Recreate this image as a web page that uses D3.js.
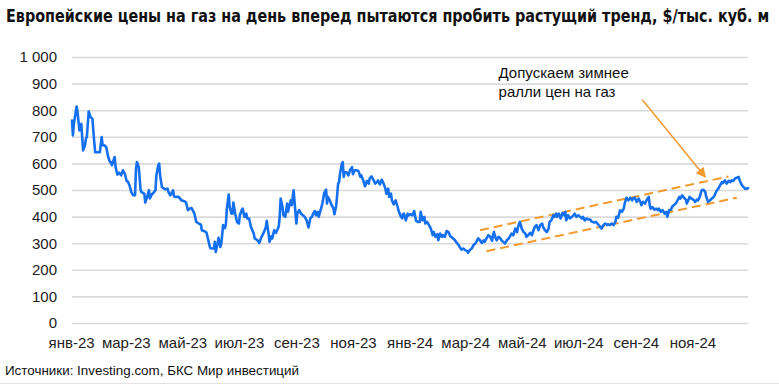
<!DOCTYPE html>
<html><head><meta charset="utf-8">
<script src="https://cdn.jsdelivr.net/npm/d3@7"></script>
<style>body{margin:0;background:#fff}svg{display:block}</style>
</head><body>
<svg id="chart" width="779" height="385"></svg>
<script>
const titleText = "Европейские цены на газ на день вперед пытаются пробить растущий тренд, $/тыс. куб. м";
const sourceText = "Источники: Investing.com, БКС Мир инвестиций";
const noteLines = ["Допускаем зимнее", "ралли цен на газ"];
const monthNames = ["янв","фев","мар","апр","май","июн","июл","авг","сен","окт","ноя","дек"];
const xTickDates = ["2023-01-01","2023-03-01","2023-05-01","2023-07-01","2023-09-01","2023-11-01",
  "2024-01-01","2024-03-01","2024-05-01","2024-07-01","2024-09-01","2024-11-01"];
const yTicks = [0,100,200,300,400,500,600,700,800,900,1000];

const dates = [
"2023-01-02","2023-01-03","2023-01-04","2023-01-07","2023-01-08","2023-01-10","2023-01-12","2023-01-14","2023-01-16","2023-01-17",
"2023-01-18","2023-01-20","2023-01-22","2023-01-24","2023-01-26","2023-01-27","2023-01-30","2023-02-01","2023-02-03","2023-02-04",
"2023-02-06","2023-02-08","2023-02-10","2023-02-12","2023-02-13","2023-02-14","2023-02-17","2023-02-18","2023-02-20","2023-02-22",
"2023-02-24","2023-02-26","2023-02-28","2023-03-02","2023-03-03","2023-03-05","2023-03-07","2023-03-09","2023-03-11","2023-03-12",
"2023-03-13","2023-03-15","2023-03-17","2023-03-18","2023-03-21","2023-03-22","2023-03-24","2023-03-26","2023-03-27","2023-03-29",
"2023-03-31","2023-04-02","2023-04-03","2023-04-05","2023-04-06","2023-04-07","2023-04-09","2023-04-12","2023-04-15","2023-04-16",
"2023-04-18","2023-04-21","2023-04-22","2023-04-24","2023-04-27","2023-04-30","2023-05-03","2023-05-05","2023-05-07","2023-05-09",
"2023-05-11","2023-05-14","2023-05-16","2023-05-19","2023-05-21","2023-05-22","2023-05-25","2023-05-27","2023-05-29","2023-05-31",
"2023-06-02","2023-06-04","2023-06-05","2023-06-06","2023-06-08","2023-06-09","2023-06-11","2023-06-12","2023-06-14","2023-06-16",
"2023-06-17","2023-06-18","2023-06-20","2023-06-21","2023-06-23","2023-06-24","2023-06-25","2023-06-27","2023-06-29","2023-07-01",
"2023-07-02","2023-07-04","2023-07-05","2023-07-07","2023-07-09","2023-07-10","2023-07-12","2023-07-14","2023-07-17","2023-07-18",
"2023-07-21","2023-07-23","2023-07-25","2023-07-27","2023-07-30","2023-07-31","2023-08-02","2023-08-03","2023-08-05","2023-08-06",
"2023-08-08","2023-08-10","2023-08-12","2023-08-13","2023-08-14","2023-08-15","2023-08-17","2023-08-18","2023-08-20","2023-08-22",
"2023-08-23","2023-08-24","2023-08-26","2023-08-27","2023-08-29","2023-08-30","2023-09-01","2023-09-02","2023-09-04","2023-09-06",
"2023-09-08","2023-09-10","2023-09-12","2023-09-14","2023-09-16","2023-09-18","2023-09-19","2023-09-21","2023-09-22","2023-09-24",
"2023-09-25","2023-09-28","2023-09-29","2023-10-01","2023-10-03","2023-10-04","2023-10-05","2023-10-07","2023-10-09","2023-10-11",
"2023-10-12","2023-10-14","2023-10-16","2023-10-17","2023-10-18","2023-10-20","2023-10-21","2023-10-22","2023-10-23","2023-10-25",
"2023-10-27","2023-10-29","2023-10-31","2023-11-01","2023-11-03","2023-11-05","2023-11-07","2023-11-09","2023-11-10","2023-11-12",
"2023-11-14","2023-11-16","2023-11-18","2023-11-19","2023-11-21","2023-11-23","2023-11-25","2023-11-27","2023-11-28","2023-11-30",
"2023-12-02","2023-12-04","2023-12-06","2023-12-07","2023-12-09","2023-12-10","2023-12-12","2023-12-13","2023-12-15","2023-12-17",
"2023-12-19","2023-12-20","2023-12-22","2023-12-24","2023-12-25","2023-12-26","2023-12-28","2023-12-30","2023-12-31","2024-01-02",
"2024-01-04","2024-01-06","2024-01-08","2024-01-10","2024-01-12","2024-01-13","2024-01-15","2024-01-17","2024-01-18","2024-01-20",
"2024-01-22","2024-01-24","2024-01-26","2024-01-27","2024-01-29","2024-01-31","2024-02-01","2024-02-03","2024-02-05","2024-02-06",
"2024-02-08","2024-02-10","2024-02-12","2024-02-14","2024-02-15","2024-02-17","2024-02-19","2024-02-21","2024-02-23","2024-02-24",
"2024-02-26","2024-02-28","2024-03-01","2024-03-03","2024-03-04","2024-03-06","2024-03-08","2024-03-10","2024-03-12","2024-03-13",
"2024-03-15","2024-03-17","2024-03-19","2024-03-21","2024-03-22","2024-03-24","2024-03-26","2024-03-28","2024-03-30","2024-03-31",
"2024-04-01","2024-04-03","2024-04-04","2024-04-06","2024-04-08","2024-04-09","2024-04-11","2024-04-13","2024-04-15","2024-04-17",
"2024-04-18","2024-04-20","2024-04-22","2024-04-24","2024-04-26","2024-04-27","2024-04-29","2024-05-01","2024-05-03","2024-05-05",
"2024-05-06","2024-05-08","2024-05-10","2024-05-12","2024-05-13","2024-05-15","2024-05-17","2024-05-19","2024-05-21","2024-05-23",
"2024-05-24","2024-05-26","2024-05-28","2024-05-30","2024-05-31","2024-06-02","2024-06-04","2024-06-05","2024-06-07","2024-06-08",
"2024-06-10","2024-06-12","2024-06-14","2024-06-16","2024-06-17","2024-06-18","2024-06-20","2024-06-22","2024-06-24","2024-06-26",
"2024-06-27","2024-06-29","2024-07-01","2024-07-03","2024-07-05","2024-07-06","2024-07-08","2024-07-10","2024-07-12","2024-07-14",
"2024-07-15","2024-07-18","2024-07-20","2024-07-23","2024-07-24","2024-07-26","2024-07-28","2024-07-30","2024-08-01","2024-08-02",
"2024-08-04","2024-08-06","2024-08-08","2024-08-10","2024-08-11","2024-08-13","2024-08-15","2024-08-17","2024-08-19","2024-08-20",
"2024-08-22","2024-08-24","2024-08-26","2024-08-28","2024-08-29","2024-08-31","2024-09-02","2024-09-04","2024-09-06","2024-09-07",
"2024-09-09","2024-09-11","2024-09-13","2024-09-15","2024-09-16","2024-09-17","2024-09-19","2024-09-21","2024-09-23","2024-09-25",
"2024-09-26","2024-09-28","2024-09-30","2024-10-02","2024-10-04","2024-10-05","2024-10-07","2024-10-09","2024-10-10","2024-10-12",
"2024-10-14","2024-10-16","2024-10-18","2024-10-19","2024-10-21","2024-10-23","2024-10-25","2024-10-26","2024-10-28","2024-10-29",
"2024-10-31","2024-11-02","2024-11-04","2024-11-06","2024-11-07","2024-11-09","2024-11-11","2024-11-13","2024-11-15","2024-11-16",
"2024-11-18","2024-11-20","2024-11-22","2024-11-24","2024-11-25","2024-11-27","2024-11-29","2024-12-01","2024-12-03","2024-12-04",
"2024-12-06","2024-12-08","2024-12-10","2024-12-12","2024-12-13","2024-12-15","2024-12-17","2024-12-19","2024-12-21","2024-12-22",
"2024-12-24","2024-12-26","2024-12-28","2024-12-30","2024-12-31"];

const prices = [
761,705,749,814,792,724,749,649,668,693,
699,795,774,768,680,642,642,642,699,668,
668,661,624,605,605,593,624,586,558,565,
555,574,561,533,533,518,492,480,480,580,
605,586,499,492,486,453,474,499,468,483,
490,499,555,593,599,555,511,503,505,492,
480,499,476,474,474,461,458,453,424,430,
432,411,380,374,370,349,345,340,311,282,
280,280,305,267,299,320,286,299,368,357,
374,430,483,436,411,411,453,411,380,374,
405,424,430,399,411,393,393,361,336,318,
311,301,321,334,359,384,336,305,326,318,
349,339,355,364,399,468,436,405,399,449,
418,436,461,443,499,455,374,411,424,411,
405,399,386,359,393,401,411,421,405,418,
399,436,449,489,501,449,474,461,443,430,
409,443,524,530,561,599,605,549,567,567,
555,576,586,559,574,574,571,549,555,536,
514,534,524,543,551,539,524,530,536,521,
539,524,505,486,505,474,486,461,446,461,
439,424,405,393,409,411,386,411,405,409,
405,421,384,380,380,418,386,399,374,380,
368,355,330,342,324,334,311,336,324,330,
324,346,342,326,324,318,311,301,293,286,
276,280,274,271,264,274,280,293,299,305,
318,311,301,311,305,318,330,324,309,330,
342,318,311,324,318,311,305,299,311,318,
324,336,330,355,342,361,380,355,342,336,
324,330,339,330,342,361,368,349,368,374,
361,349,342,355,380,386,405,399,411,399,
411,393,414,405,418,386,405,393,399,405,
411,399,405,399,393,399,386,393,389,389,
382,378,380,368,364,355,368,374,368,371,
368,374,368,380,399,396,424,418,430,449,
471,461,471,461,468,471,455,468,455,443,
455,449,464,474,443,430,436,426,430,424,
430,418,424,411,418,399,424,426,436,443,
449,461,474,468,480,471,464,449,464,474,
468,464,455,464,461,474,499,501,492,474,
455,461,468,474,480,496,505,518,530,526,
536,524,534,530,536,534,543,546,549,536,
521,511,505,505,507];

const upperTrendDates = ["2024-03-17","2024-12-10"];
const upperTrendValues = [349, 551];
const lowerTrendDates = ["2024-03-24","2024-12-19"];
const lowerTrendValues = [270, 471];
const arrowDates = ["2024-09-08","2024-11-15"];
const arrowValues = [839, 549];
const noteDate = "2024-04-06";
const noteValue = 922;

const parse = d3.timeParse("%Y-%m-%d");
const series = dates.map((d, i) => ({date: parse(d), value: prices[i]}));

const svg = d3.select("#chart");
const W = 779, H = 385;
const x = d3.scaleTime().domain([parse("2023-01-02"), parse("2024-12-31")]).range([72, 748]);
const y = d3.scaleLinear().domain([0, 1000]).range([323, 57]);
const fontMain = "'Liberation Sans', Arial, Helvetica, sans-serif";
const orange = "#f39a2e";

// Title: condensed look by horizontal scaling to the reference width
const titleG = svg.append("g");
const title = titleG.append("text")
  .attr("x", 0).attr("y", 0)
  .style("font-family", "'Liberation Sans Narrow','DejaVu Sans Condensed','Roboto Condensed','Arial Narrow','Liberation Sans',sans-serif")
  .style("font-weight", "bold").style("font-size", "18px").style("fill", "#111")
  .text(titleText);
const natural = title.node().getComputedTextLength();
const sx = Math.min(1, 764 / natural);
titleG.attr("transform", `translate(6,22) scale(${sx},1)`);

// Y axis + grid
const yAxis = d3.axisLeft(y).tickValues(yTicks).tickSize(-(748 - 72)).tickPadding(15)
  .tickFormat(d => d3.format(",")(d).replace(/,/g, "\u00a0"));
const gy = svg.append("g").attr("transform", "translate(72,0)").call(yAxis);
gy.select(".domain").remove();
gy.selectAll(".tick line").attr("stroke", "#dadada").attr("stroke-width", 1.6);
gy.selectAll(".tick text").style("font-family", fontMain).style("font-size", "15px").style("fill", "#222");

// X axis
const fmtX = d => monthNames[d.getMonth()] + "-" + String(d.getFullYear()).slice(2);
const xAxis = d3.axisBottom(x).tickValues(xTickDates.map(parse)).tickFormat(fmtX).tickSize(0).tickPadding(14);
const gx = svg.append("g").attr("transform", "translate(0,323)").call(xAxis);
gx.select(".domain").remove();
gx.selectAll(".tick text").style("font-family", fontMain).style("font-size", "15px").style("fill", "#222");

// Trend channel lines
const trendLine = d3.line().x(d => x(d.date)).y(d => y(d.value));
[[upperTrendDates, upperTrendValues], [lowerTrendDates, lowerTrendValues]].forEach(([ds, vs]) => {
  svg.append("path")
    .datum(ds.map((d, i) => ({date: parse(d), value: vs[i]})))
    .attr("d", trendLine)
    .attr("fill", "none").attr("stroke", orange).attr("stroke-width", 2)
    .attr("stroke-dasharray", "9,5");
});

// Main line
svg.append("path")
  .datum(series)
  .attr("d", d3.line().x(d => x(d.date)).y(d => y(d.value)))
  .attr("fill", "none").attr("stroke", "#1470ee").attr("stroke-width", 2.6)
  .attr("stroke-linejoin", "round").attr("stroke-linecap", "round");

// Arrow
const defs = svg.append("defs");
defs.append("marker").attr("id", "arrowhead")
  .attr("viewBox", "0 0 10 10").attr("refX", 9).attr("refY", 5)
  .attr("markerWidth", 12).attr("markerHeight", 10).attr("markerUnits", "userSpaceOnUse")
  .attr("orient", "auto")
  .append("path").attr("d", "M0,0 L10,5 L0,10 Z").attr("fill", orange);
svg.append("line")
  .attr("x1", x(parse(arrowDates[0]))).attr("y1", y(arrowValues[0]))
  .attr("x2", x(parse(arrowDates[1]))).attr("y2", y(arrowValues[1]))
  .attr("stroke", orange).attr("stroke-width", 1.5)
  .attr("marker-end", "url(#arrowhead)");

// Note
const note = svg.append("text")
  .attr("x", x(parse(noteDate))).attr("y", y(noteValue))
  .style("font-family", fontMain).style("font-size", "15px").style("fill", "#111");
noteLines.forEach((t, i) => note.append("tspan").attr("x", x(parse(noteDate))).attr("dy", i === 0 ? 0 : 19).text(t));

// Source
svg.append("text").attr("x", 5).attr("y", 375)
  .style("font-family", fontMain).style("font-size", "13.4px").style("fill", "#111")
  .text(sourceText);

// Bottom separator
svg.append("line").attr("x1", 0).attr("x2", W).attr("y1", 383.5).attr("y2", 383.5)
  .attr("stroke", "#e3e3e3").attr("stroke-width", 1);
</script>
</body></html>
